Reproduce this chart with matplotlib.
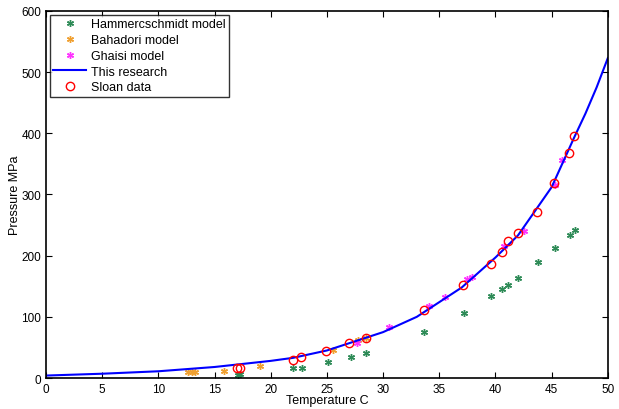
import matplotlib
matplotlib.use("Agg")
import matplotlib.pyplot as plt

# Hammerschmidt model
ham_t = [17.1, 17.3, 22.0, 22.75, 25.1, 27.1, 28.5, 33.6, 37.2, 39.6, 40.6, 41.1,
         42.0, 43.8, 45.3, 46.6, 47.1]
ham_p = [5, 6.5, 16, 16.5, 25.5, 34, 41, 75, 106, 133.5, 145, 151.5,
         163.5, 189, 212, 233, 242.5]

# Bahadori model
bah_t = [12.66, 12.96, 13.26, 15.8, 19.0, 25.5, 27.8, 28.5]
bah_p = [9, 9, 9.5, 12, 20, 46, 62, 66]

# Ghaisi model
gha_t = [27.7, 30.5, 34.1, 35.5, 37.5, 37.95, 40.75, 42.55, 45.3, 45.9]
gha_p = [57, 84, 118, 133, 161, 165, 215, 241, 316, 357]

# This research (curve)
res_t = [0, 5, 10, 15, 20, 22, 25, 28, 30, 33, 35, 37, 40, 42, 45, 47, 48, 49, 50]
res_p = [4, 7, 11, 18, 28, 33, 45, 63, 75, 100, 124, 148, 197, 233, 312, 393, 432, 475, 523]

# Sloan data
slo_t = [17.0, 17.3, 22.0, 22.66, 24.9, 27.0, 28.5, 33.6, 37.1, 39.6, 40.6, 41.1,
         42.0, 43.7, 45.2, 46.5, 47.0]
slo_p = [16, 16, 29, 34, 43.6, 56.7, 65, 111, 152, 186, 205.5, 224,
         236.5, 271, 319, 368, 396]

plt.rcParams['font.family'] = ['Liberation Sans', 'DejaVu Sans']
fig = plt.figure(figsize=(6.19, 4.10), dpi=100)
ax = fig.add_axes([0.0743, 0.0756, 0.9077, 0.8954])

star = (6, 2, 0)
ax.plot(ham_t, ham_p, linestyle='none', marker=star, markersize=5, mew=1.0,
        color='#2e8b57', label='Hammercschmidt model')
ax.plot(bah_t, bah_p, linestyle='none', marker=star, markersize=5, mew=1.0,
        color='#f0a030', label='Bahadori model')
ax.plot(gha_t, gha_p, linestyle='none', marker=star, markersize=5, mew=1.0,
        color='#ff33ff', label='Ghaisi model')
ax.plot(res_t, res_p, color='#0000ff', linewidth=1.5, label='This research')
ax.plot(slo_t, slo_p, linestyle='none', marker='o', markersize=6, mfc='none',
        mec='#ff0000', mew=1.0, label='Sloan data')

ax.set_xlim(0, 50)
ax.set_ylim(0, 600)
ax.set_xticks(range(0, 51, 5))
ax.set_yticks(range(0, 601, 100))
ax.tick_params(direction='in', top=True, right=True, labelsize=8.5, length=4)
for s in ax.spines.values():
    s.set_linewidth(1.2)
ax.set_xlabel('Temperature C', fontsize=9)
ax.xaxis.set_label_coords(0.5, -0.043)
ax.set_ylabel('Pressure MPa', fontsize=9)
ax.yaxis.set_label_coords(-0.045, 0.5)

leg = ax.legend(loc='upper left', fontsize=9, frameon=True, fancybox=False,
                borderpad=0.3, labelspacing=0.3, handlelength=2.6,
                handletextpad=0.4, borderaxespad=0.3)
leg.get_frame().set_edgecolor('black')
leg.get_frame().set_linewidth(1.0)

fig.savefig('out.png', dpi=100)
